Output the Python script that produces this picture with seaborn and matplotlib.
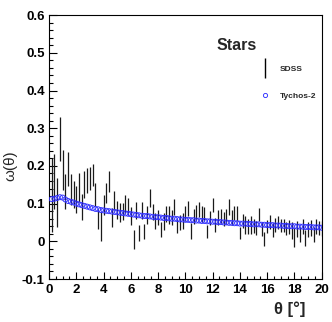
import matplotlib
matplotlib.use("Agg")
import matplotlib.pyplot as plt
from matplotlib.lines import Line2D
from matplotlib.ticker import MultipleLocator, FuncFormatter
import seaborn as sns
import pandas as pd

theta = [0.2, 0.4, 0.6, 0.8, 1.0, 1.2, 1.4, 1.6, 1.8, 2.0,
         2.2, 2.4, 2.6, 2.8, 3.0, 3.2, 3.4, 3.6, 3.8, 4.0,
         4.2, 4.4, 4.6, 4.8, 5.0, 5.2, 5.4, 5.6, 5.8, 6.0,
         6.2, 6.4, 6.6, 6.8, 7.0, 7.2, 7.4, 7.6, 7.8, 8.0,
         8.2, 8.4, 8.6, 8.8, 9.0, 9.2, 9.4, 9.6, 9.8, 10.0,
         10.2, 10.4, 10.6, 10.8, 11.0, 11.2, 11.4, 11.6, 11.8, 12.0,
         12.2, 12.4, 12.6, 12.8, 13.0, 13.2, 13.4, 13.6, 13.8, 14.0,
         14.2, 14.4, 14.6, 14.8, 15.0, 15.2, 15.4, 15.6, 15.8, 16.0,
         16.2, 16.4, 16.6, 16.8, 17.0, 17.2, 17.4, 17.6, 17.8, 18.0,
         18.2, 18.4, 18.6, 18.8, 19.0, 19.2, 19.4, 19.6, 19.8, 20.0]

sdss_w = [0.123, 0.159, 0.103, 0.272, 0.189, 0.132, 0.191, 0.138, 0.124, 0.110,
          0.143, 0.091, 0.150, 0.161, 0.167, 0.176, 0.124, 0.059, 0.039, 0.097,
          0.128, 0.159, 0.063, 0.108, 0.083, 0.076, 0.079, 0.098, 0.092, 0.066,
          0.004, 0.081, 0.023, 0.082, 0.026, 0.070, 0.115, 0.077, 0.053, 0.063,
          0.031, 0.052, 0.073, 0.070, 0.063, 0.090, 0.041, 0.049, 0.054, 0.074,
          0.087, 0.027, 0.067, 0.076, 0.085, 0.072, 0.074, 0.026, 0.061, 0.097,
          0.043, 0.064, 0.068, 0.059, 0.066, 0.090, 0.064, 0.075, 0.073, 0.022,
          0.053, 0.043, 0.040, 0.043, 0.041, 0.035, 0.071, 0.033, 0.006, 0.039,
          0.051, 0.030, 0.044, 0.050, 0.042, 0.041, 0.034, 0.038, 0.029, 0.009,
          0.032, 0.018, 0.040, 0.008, 0.031, 0.036, 0.018, 0.040, 0.035, 0.034]

sdss_err = [0.099, 0.072, 0.065, 0.059, 0.052, 0.047, 0.045, 0.041, 0.035, 0.036,
            0.038, 0.034, 0.036, 0.034, 0.030, 0.030, 0.030, 0.026, 0.039, 0.027,
            0.027, 0.027, 0.025, 0.025, 0.025, 0.025, 0.023, 0.024, 0.023, 0.024,
            0.025, 0.023, 0.021, 0.022, 0.021, 0.023, 0.023, 0.021, 0.021, 0.021,
            0.020, 0.023, 0.022, 0.023, 0.021, 0.021, 0.019, 0.020, 0.021, 0.021,
            0.020, 0.021, 0.020, 0.020, 0.020, 0.021, 0.018, 0.018, 0.019, 0.019,
            0.019, 0.020, 0.019, 0.019, 0.019, 0.021, 0.020, 0.019, 0.020, 0.017,
            0.019, 0.023, 0.020, 0.023, 0.019, 0.018, 0.018, 0.018, 0.018, 0.017,
            0.018, 0.019, 0.018, 0.017, 0.018, 0.017, 0.017, 0.018, 0.023, 0.025,
            0.021, 0.021, 0.020, 0.021, 0.020, 0.021, 0.021, 0.020, 0.018, 0.019]

tychos_w = [0.112, 0.113, 0.115, 0.117, 0.116, 0.111, 0.107, 0.105, 0.103, 0.100,
            0.098, 0.096, 0.094, 0.092, 0.090, 0.088, 0.086, 0.085, 0.083, 0.082,
            0.081, 0.080, 0.079, 0.078, 0.077, 0.076, 0.075, 0.074, 0.073, 0.072,
            0.071, 0.070, 0.069, 0.068, 0.067, 0.067, 0.066, 0.065, 0.064, 0.064,
            0.063, 0.062, 0.062, 0.061, 0.060, 0.060, 0.059, 0.058, 0.058, 0.057,
            0.057, 0.056, 0.056, 0.055, 0.055, 0.054, 0.054, 0.053, 0.053, 0.052,
            0.052, 0.051, 0.051, 0.050, 0.050, 0.049, 0.049, 0.048, 0.048, 0.047,
            0.047, 0.047, 0.046, 0.046, 0.045, 0.045, 0.045, 0.044, 0.044, 0.043,
            0.043, 0.043, 0.042, 0.042, 0.042, 0.041, 0.041, 0.040, 0.040, 0.040,
            0.039, 0.039, 0.039, 0.038, 0.038, 0.038, 0.037, 0.037, 0.037, 0.036]

title_text = "Stars"
series_labels = ["SDSS", "Tychos-2"]
x_label = "θ [°]"
y_label = "ω(θ)"

sns.set_theme(style="white")
plt.rcParams["font.family"] = ["Liberation Sans", "DejaVu Sans"]

fig = plt.figure(figsize=(3.32, 3.22), dpi=100)
ax = fig.add_axes([0.1476, 0.1335, 0.8214, 0.8195])

df_s = pd.DataFrame({"theta": theta, "w": sdss_w, "err": sdss_err})
df_t = pd.DataFrame({"theta": theta, "w": tychos_w})

ax.errorbar(df_s["theta"], df_s["w"], yerr=df_s["err"], fmt="none",
            ecolor="#1a1a1a", elinewidth=0.9, capsize=0, zorder=2)
sns.scatterplot(data=df_t, x="theta", y="w", ax=ax, marker="o", s=13,
                facecolors="none", edgecolor="#3030ff", linewidth=0.65,
                zorder=3, legend=False)

ax.set_xlim(0, 20)
ax.set_ylim(-0.1, 0.6)
ax.xaxis.set_major_locator(MultipleLocator(2))
ax.xaxis.set_minor_locator(MultipleLocator(0.5))
ax.yaxis.set_major_locator(MultipleLocator(0.1))
ax.yaxis.set_minor_locator(MultipleLocator(0.02))
ax.yaxis.set_major_formatter(FuncFormatter(lambda v, p: f"{round(v, 2):g}"))
ax.xaxis.set_major_formatter(FuncFormatter(lambda v, p: f"{round(v, 2):g}"))

ax.tick_params(axis="both", which="both", direction="in", top=False, right=False,
               colors="black", width=0.8)
ax.tick_params(axis="y", which="major", length=5.8, pad=3)
ax.tick_params(axis="y", which="minor", length=2.9)
ax.tick_params(axis="x", which="major", length=4.8, pad=3.5)
ax.tick_params(axis="x", which="minor", length=2.4)
ax.tick_params(axis="both", which="major", left=True, bottom=True)
ax.tick_params(axis="both", which="minor", left=True, bottom=True)
for lab in ax.get_xticklabels() + ax.get_yticklabels():
    lab.set_fontweight("bold")
    lab.set_fontsize(9.5)

for sp in ax.spines.values():
    sp.set_color("black")
    sp.set_linewidth(0.8)

ax.set_xlabel(x_label, fontsize=12, fontweight="bold")
ax.xaxis.set_label_coords(0.94, -0.085)
ax.xaxis.label.set_horizontalalignment("right")
ax.set_ylabel(y_label, fontsize=11)
ax.yaxis.set_label_coords(-0.117, 0.43)
ax.grid(False)

ax.text(0.687, 0.884, title_text, transform=ax.transAxes, ha="center", va="center",
        fontsize=11.5, fontweight="bold")

handles = [Line2D([], [], marker="|", markersize=14, markeredgewidth=1.0,
                  color="black", linestyle="None"),
           Line2D([], [], marker="o", markersize=3.0, markerfacecolor="none",
                  markeredgecolor="#3030ff", markeredgewidth=0.65, linestyle="None")]
ax.legend(handles, series_labels, loc="center left", bbox_to_anchor=(0.777, 0.745),
          frameon=False, prop={"weight": "bold", "size": 6},
          handlelength=1.0, handletextpad=1.3, labelspacing=2.3,
          borderpad=0, borderaxespad=0)

fig.savefig("out.png", dpi=100)
